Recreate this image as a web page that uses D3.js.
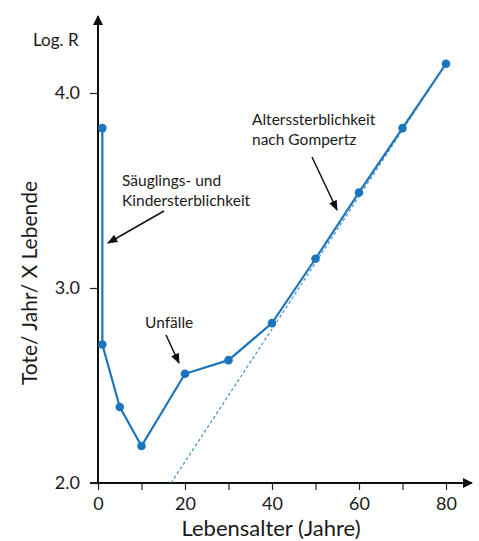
<!DOCTYPE html>
<html><head><meta charset="utf-8">
<script src="https://cdn.jsdelivr.net/npm/d3@7"></script>
<style>body{margin:0;background:#fff}svg{display:block}text{font-family:Lato,"Open Sans",sans-serif;fill:#1a1a1a}</style>
</head><body>
<svg id="c" width="479" height="541"></svg>
<script>
// Data
const ages = [1, 1, 5, 10, 20, 30, 40, 50, 60, 70, 80];
const logR = [3.82, 2.71, 2.39, 2.19, 2.56, 2.63, 2.82, 3.15, 3.49, 3.82, 4.15];
const gompertzAges = [16.8, 80];
const gompertzLogR = [2.0, 4.15];
const xTicks = [0, 10, 20, 30, 40, 50, 60, 70, 80];
const xTickLabels = [0, 20, 40, 60, 80];
const yTicks = [2.0, 3.0, 4.0];

const svg = d3.select("#c");
const x = d3.scaleLinear().domain([0, 80]).range([98, 446]);
const y = d3.scaleLinear().domain([2, 4]).range([483, 93]);
const blue = "#1b75bc";

svg.append("defs").html(`
<marker id="ah" viewBox="0 0 10 10" refX="9" refY="5" markerWidth="7" markerHeight="7" orient="auto-start-reverse"><path d="M0,1 L10,5 L0,9 z" fill="#111"/></marker>
<marker id="ax" viewBox="0 0 10 10" refX="9" refY="5" markerWidth="5" markerHeight="5" orient="auto"><path d="M0,0 L10,5 L0,10 z" fill="#111"/></marker>`);

// axes
const gx = svg.append("g").attr("transform", `translate(0,${y(2)})`)
  .call(d3.axisBottom(x).tickValues(xTicks).tickSize(7).tickFormat(d => xTickLabels.includes(d) ? d : ""));
gx.select(".domain").remove();
gx.selectAll("line").attr("stroke", "#222").attr("stroke-width", 1.2);
gx.selectAll("text").attr("font-size", 18).attr("y", 27).attr("dy", 0);
svg.append("line").attr("x1", 90).attr("x2", 472).attr("y1", y(2)).attr("y2", y(2))
  .attr("stroke", "#111").attr("stroke-width", 2).attr("marker-end", "url(#ax)");

const gy = svg.append("g").attr("transform", `translate(${x(0)},0)`)
  .call(d3.axisLeft(y).tickValues(yTicks).tickSize(8).tickFormat(d3.format(".1f")));
gy.select(".domain").remove();
gy.selectAll("line").attr("stroke", "#222").attr("stroke-width", 1.2);
gy.selectAll("text").attr("font-size", 18).attr("x", -18);
svg.append("line").attr("x1", x(0)).attr("x2", x(0)).attr("y1", y(2) + 1).attr("y2", 16)
  .attr("stroke", "#111").attr("stroke-width", 2).attr("marker-end", "url(#ax)");

// Gompertz dashed line
const pts = ages.map((a, i) => [a, logR[i]]);
const gPts = gompertzAges.map((a, i) => [a, gompertzLogR[i]]);
const line = d3.line().x(d => x(d[0])).y(d => y(d[1]));
svg.append("path").attr("d", line(gPts)).attr("fill", "none").attr("stroke", "#3a8fd0")
  .attr("stroke-width", 1.2).attr("stroke-dasharray", "3,2.5");

// main line
svg.append("path").attr("d", line(pts)).attr("fill", "none").attr("stroke", blue).attr("stroke-width", 2.2);
svg.selectAll("circle.p").data(pts).join("circle").attr("class", "p")
  .attr("cx", d => x(d[0])).attr("cy", d => y(d[1])).attr("r", 4.3).attr("fill", blue);

// labels
svg.append("text").attr("x", 33).attr("y", 46).attr("font-size", 17).text("Log. R");
svg.append("text").attr("x", 271).attr("y", 536).attr("text-anchor", "middle").attr("font-size", 22).text("Lebensalter (Jahre)");
svg.append("text").attr("transform", "translate(37,283) rotate(-90)").attr("text-anchor", "middle").attr("font-size", 21).text("Tote/ Jahr/ X Lebende");

// annotations
function ann(lines, x0, y0, lh) {
  lines.forEach((t, i) => svg.append("text").attr("x", x0).attr("y", y0 + i * lh).attr("font-size", 15.5).text(t));
}
function arrow(x1, y1, x2, y2) {
  svg.append("line").attr("x1", x1).attr("y1", y1).attr("x2", x2).attr("y2", y2)
    .attr("stroke", "#111").attr("stroke-width", 1.5).attr("marker-end", "url(#ah)");
}
ann(["Säuglings- und", "Kindersterblichkeit"], 122, 186, 20);
arrow(164, 211, 108, 243);
ann(["Unfälle"], 145, 328, 20);
arrow(166, 335, 179, 363);
ann(["Alterssterblichkeit", "nach Gompertz"], 252, 125, 20);
arrow(312, 157, 337, 210);
</script>
</body></html>
